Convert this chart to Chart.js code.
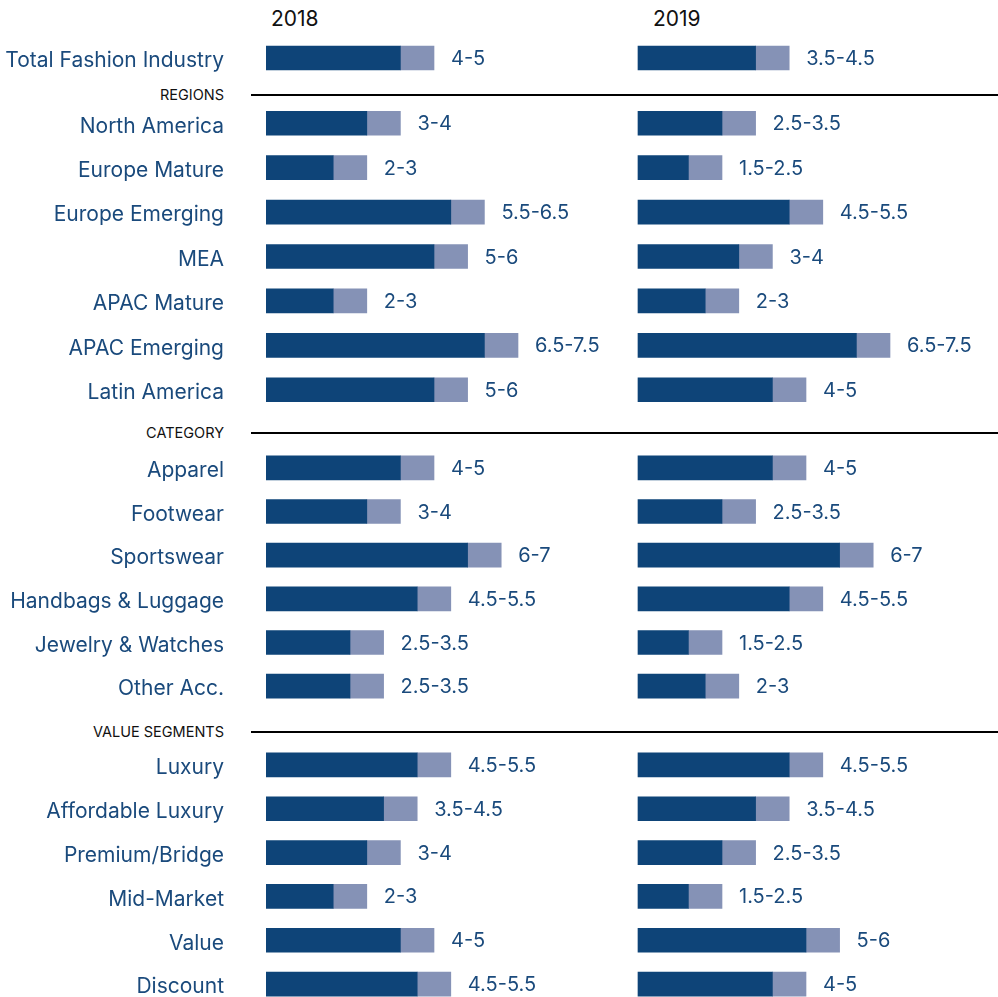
<!DOCTYPE html>
<html>
<head>
<meta charset="utf-8">
<script src="https://cdn.jsdelivr.net/npm/chart.js@4.4.1/dist/chart.umd.min.js"></script>
<style>
  html, body { margin: 0; padding: 0; background: #fff; overflow: hidden; }
  #wrap { position: relative; width: 998px; height: 997px; font-family: Inter, "Open Sans", sans-serif; }
  canvas { position: absolute; left: 0; }
  .year { position: absolute; top: 6px; font-size: 21px; color: #111; }
  .head { position: absolute; left: 0; width: 224px; text-align: right; font-size: 14.5px; color: #111; }
  .rule { position: absolute; left: 251px; width: 747px; height: 2px; background: #000; }
</style>
</head>
<body>
<div id="wrap">
  <div class="year" style="left:271px">2018</div>
  <div class="year" style="left:653px">2019</div>
  <div class="head" style="top:86px">REGIONS</div><div class="rule" style="top:94px"></div>
  <div class="head" style="top:424px">CATEGORY</div><div class="rule" style="top:432px"></div>
  <div class="head" style="top:723px">VALUE SEGMENTS</div><div class="rule" style="top:731px"></div>
  <canvas id="c0" width="998" height="44" style="top:36px"></canvas>
  <canvas id="c1" width="998" height="311" style="top:101px"></canvas>
  <canvas id="c2" width="998" height="262" style="top:446px"></canvas>
  <canvas id="c3" width="998" height="263" style="top:743px"></canvas>
</div>
<script>
var rowLabels = [
  'Total Fashion Industry',
  'North America', 'Europe Mature', 'Europe Emerging', 'MEA', 'APAC Mature', 'APAC Emerging', 'Latin America',
  'Apparel', 'Footwear', 'Sportswear', 'Handbags & Luggage', 'Jewelry & Watches', 'Other Acc.',
  'Luxury', 'Affordable Luxury', 'Premium/Bridge', 'Mid-Market', 'Value', 'Discount'
];
var sectionSizes = [1, 7, 6, 6];

var low2018  = [4,   3,   2,   5.5, 5, 2, 6.5, 5,   4, 3,   6, 4.5, 2.5, 2.5,   4.5, 3.5, 3,   2,   4, 4.5];
var high2018 = [5,   4,   3,   6.5, 6, 3, 7.5, 6,   5, 4,   7, 5.5, 3.5, 3.5,   5.5, 4.5, 4,   3,   5, 5.5];
var low2019  = [3.5, 2.5, 1.5, 4.5, 3, 2, 6.5, 4,   4, 2.5, 6, 4.5, 1.5, 2,     4.5, 3.5, 2.5, 1.5, 5, 4];
var high2019 = [4.5, 3.5, 2.5, 5.5, 4, 3, 7.5, 5,   5, 3.5, 7, 5.5, 2.5, 3,     5.5, 4.5, 3.5, 2.5, 6, 5];

var darkBlue = '#0e4478';
var lightBlue = '#8592b6';
var textBlue = '#1a4a7c';
var pxPerUnit = 33.6;

// range labels at the end of each bar
var rangeLabels = {
  id: 'rangeLabels',
  afterDatasetsDraw: function(chart) {
    var ctx = chart.ctx;
    ctx.save();
    ctx.font = '20px Inter, "Open Sans", sans-serif';
    ctx.fillStyle = textBlue;
    ctx.textAlign = 'left';
    ctx.textBaseline = 'middle';
    [1, 3].forEach(function(di) {
      var ds = chart.data.datasets[di];
      chart.getDatasetMeta(di).data.forEach(function(bar, i) {
        ctx.fillText(ds.lows[i] + '-' + ds.highs[i], bar.x + 17, bar.y + 1);
      });
    });
    ctx.restore();
  }
};

function diff(hi, lo) {
  return hi.map(function(v, i) { return v - lo[i]; });
}

function makeChart(id, start, count) {
  var end = start + count;
  var labels = rowLabels.slice(start, end);
  var l18 = low2018.slice(start, end), h18 = high2018.slice(start, end);
  var l19 = low2019.slice(start, end), h19 = high2019.slice(start, end);
  var xMax = (998 - 266) / pxPerUnit;
  var offset19 = (638 - 266) / pxPerUnit;

  new Chart(document.getElementById(id), {
    type: 'bar',
    data: {
      labels: labels,
      datasets: [
        { data: l18, backgroundColor: darkBlue, xAxisID: 'x', stack: 'a' },
        { data: diff(h18, l18), backgroundColor: lightBlue, xAxisID: 'x', stack: 'a', lows: l18, highs: h18 },
        { data: l19, backgroundColor: darkBlue, xAxisID: 'x2', stack: 'b' },
        { data: diff(h19, l19), backgroundColor: lightBlue, xAxisID: 'x2', stack: 'b', lows: l19, highs: h19 }
      ]
    },
    options: {
      indexAxis: 'y',
      responsive: false,
      animation: false,
      layout: { padding: 0 },
      datasets: { bar: { barThickness: 24, grouped: false, borderWidth: 0 } },
      plugins: { legend: { display: false }, tooltip: { enabled: false } },
      scales: {
        x: { display: false, stacked: true, min: 0, max: xMax },
        x2: { display: false, stacked: true, min: -offset19, max: xMax - offset19 },
        y: {
          stacked: true,
          grid: { display: false, drawTicks: false },
          border: { display: false },
          afterFit: function(scale) {
            scale.width = 266;
            scale.paddingTop = 0;
            scale.paddingBottom = 0;
          },
          ticks: {
            padding: 42,
            labelOffset: 3,
            autoSkip: false,
            color: textBlue,
            font: { family: 'Inter, "Open Sans", sans-serif', size: 21 }
          }
        }
      }
    },
    plugins: [rangeLabels]
  });
}

var ids = ['c0', 'c1', 'c2', 'c3'];
var pos = 0;
sectionSizes.forEach(function(n, k) {
  makeChart(ids[k], pos, n);
  pos += n;
});
</script>
</body>
</html>
